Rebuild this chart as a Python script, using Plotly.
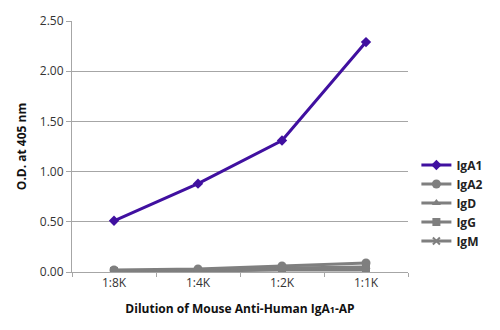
import plotly.graph_objects as go

dilutions = ["1:8K", "1:4K", "1:2K", "1:1K"]
iga1 = [0.51, 0.88, 1.31, 2.29]
iga2 = [0.02, 0.03, 0.06, 0.09]
igd = [0.01, 0.02, 0.04, 0.05]
igg = [0.01, 0.01, 0.03, 0.03]
igm = [0.01, 0.01, 0.02, 0.02]
y_ticks = [0, 0.5, 1.0, 1.5, 2.0, 2.5]

purple = "#4010A0"
gray = "#7F7F7F"

fig = go.Figure()
series = [
    ("IgM", igm, "x-thin", gray, 7),
    ("IgG", igg, "square", gray, 8),
    ("IgD", igd, "triangle-up", gray, 8),
    ("IgA2", iga2, "circle", gray, 9),
    ("IgA1", iga1, "diamond", purple, 8),
]
for name, vals, sym, col, sz in series:
    fig.add_trace(go.Scatter(
        x=dilutions, y=vals, name="<b>%s</b>" % name, mode="lines+markers",
        line=dict(color=col, width=3),
        marker=dict(symbol=sym, size=sz, color=col,
                    line=dict(color=col, width=2 if sym == "x-thin" else 0)),
    ))

fig.update_layout(
    width=500, height=330,
    margin=dict(l=72, r=88, t=15, b=58),
    paper_bgcolor="white", plot_bgcolor="white",
    font=dict(family="Open Sans", size=11, color="#333333"),
    showlegend=True,
    legend=dict(x=1.025, y=0.275, xanchor="left", yanchor="middle",
                traceorder="reversed", font=dict(size=12, color="#222222"),
                itemwidth=30, tracegroupgap=0),
    xaxis=dict(
        type="category", range=[-0.5, 3.5], showline=True, linecolor="#A6A6A6", linewidth=1,
        ticks="outside", tickson="boundaries", ticklen=4, tickcolor="#A6A6A6",
        showgrid=False, zeroline=False, tickfont=dict(size=12),
        title=dict(text="<b>Dilution of Mouse Anti-Human IgA<span style='font-size:9px'>1</span>-AP</b>",
                   font=dict(size=12, color="#111111"), standoff=14),
    ),
    yaxis=dict(
        range=[0, 2.5], tickvals=y_ticks, tickformat=".2f",
        showline=True, linecolor="#A6A6A6", linewidth=1,
        ticks="outside", ticklen=5, tickcolor="#A6A6A6", tickfont=dict(size=12),
        showgrid=True, gridcolor="#A6A6A6", gridwidth=1, zeroline=False,
        title=dict(text="<b>O.D. at 405 nm</b>", font=dict(size=12, color="#111111"), standoff=10),
    ),
)

fig.write_html("out.html")
